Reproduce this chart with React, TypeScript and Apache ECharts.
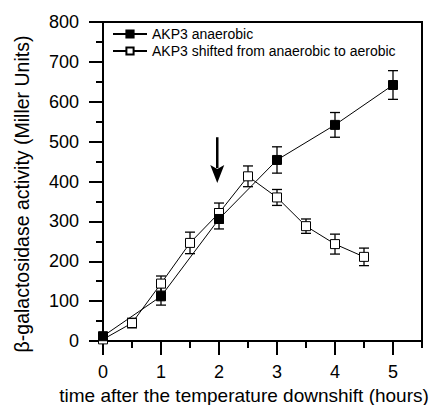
import React, { useEffect, useRef } from "react";
import * as echarts from "echarts";

const anaerobicX = [0, 1, 2, 3, 4, 5];
const anaerobicY = [12, 112, 306, 454, 542, 642];
const anaerobicErr = [8, 22, 25, 33, 31, 36];

const shiftedX = [0, 0.5, 1, 1.5, 2, 2.5, 3, 3.5, 4, 4.5];
const shiftedY = [4, 45, 144, 246, 321, 413, 360, 288, 243, 211];
const shiftedErr = [5, 12, 19, 27, 25, 26, 20, 18, 25, 22];

const xMajorTicks = [0, 1, 2, 3, 4, 5];
const xMinorTicks = [0.5, 1.5, 2.5, 3.5, 4.5, 5.5];

const xTitle = "time after the temperature downshift (hours)";
const yTitle = "β-galactosidase activity (Miller Units)";

// arrow: x, top value, tip value
const arrow = [1.97, 511, 396];

const FONT = "Liberation Sans";

function errorSeries(xs: number[], ys: number[], es: number[]) {
  return {
    type: "custom",
    z: 1,
    silent: true,
    data: xs.map((x, i) => [x, ys[i] - es[i], ys[i] + es[i]]),
    renderItem: (params: any, api: any) => {
      const x = api.value(0);
      const lo = api.coord([x, api.value(1)]);
      const hi = api.coord([x, api.value(2)]);
      const w = 5;
      const style = { stroke: "#000", lineWidth: 1.3 };
      return {
        type: "group",
        children: [
          { type: "line", shape: { x1: lo[0], y1: lo[1], x2: hi[0], y2: hi[1] }, style },
          { type: "line", shape: { x1: lo[0] - w, y1: lo[1], x2: lo[0] + w, y2: lo[1] }, style },
          { type: "line", shape: { x1: hi[0] - w, y1: hi[1], x2: hi[0] + w, y2: hi[1] }, style },
        ],
      };
    },
  };
}

export default function App() {
  const ref = useRef<HTMLDivElement>(null);
  useEffect(() => {
    if (!ref.current) return;
    const chart = echarts.init(ref.current, null, { renderer: "svg" });
    chart.setOption({
      animation: false,
      backgroundColor: "#fff",
      grid: {
        left: 103,
        right: 10,
        top: 22,
        bottom: 64,
        show: true,
        borderColor: "#000",
        borderWidth: 2,
        containLabel: false,
        outerBoundsMode: "none",
      },
      graphic: [
        {
          type: "text",
          x: 244,
          y: 395,
          style: {
            text: xTitle,
            fontFamily: FONT,
            fontSize: 19,
            fill: "#000",
            align: "center",
            verticalAlign: "middle",
          },
        },
        {
          type: "text",
          x: 22,
          y: 194,
          rotation: Math.PI / 2,
          style: {
            text: yTitle,
            fontFamily: FONT,
            fontSize: 19.5,
            fill: "#000",
            align: "center",
            verticalAlign: "middle",
          },
        },
      ],
      legend: {
        orient: "vertical",
        left: 112,
        top: 27,
        padding: 0,
        itemWidth: 34,
        itemHeight: 9,
        itemGap: 3,
        textStyle: { fontFamily: FONT, fontSize: 14, color: "#000" },
        data: ["AKP3 anaerobic", "AKP3 shifted from anaerobic to aerobic"],
      },
      xAxis: [
        {
          type: "value",
          min: 0,
          max: 5.5,
          interval: 1,
          axisLine: { show: true, lineStyle: { color: "#000", width: 2 } },
          axisTick: { show: true, length: 14, customValues: xMajorTicks, lineStyle: { color: "#000", width: 2 } },
          axisLabel: {
            customValues: xMajorTicks,
            margin: 22,
            fontFamily: FONT,
            fontSize: 18,
            color: "#000",
          },
          splitLine: { show: false },
        },
        {
          type: "value",
          min: 0,
          max: 5.5,
          interval: 0.5,
          position: "bottom",
          axisLine: { show: false },
          axisTick: { show: true, length: 7, customValues: xMinorTicks, lineStyle: { color: "#000", width: 2 } },
          axisLabel: { show: false },
          splitLine: { show: false },
        },
      ],
      yAxis: {
        type: "value",
        min: 0,
        max: 800,
        interval: 100,
        axisLine: { show: true, lineStyle: { color: "#000", width: 2 } },
        axisTick: { show: true, length: 14, lineStyle: { color: "#000", width: 2 } },
        minorTick: { show: true, splitNumber: 2, length: 7, lineStyle: { color: "#000", width: 2 } },
        axisLabel: { margin: 24, fontFamily: FONT, fontSize: 18, color: "#000" },
        splitLine: { show: false },
      },
      series: [
        errorSeries(anaerobicX, anaerobicY, anaerobicErr),
        errorSeries(shiftedX, shiftedY, shiftedErr),
        {
          name: "AKP3 anaerobic",
          type: "line",
          z: 3,
          data: anaerobicX.map((x, i) => [x, anaerobicY[i]]),
          symbol: "rect",
          symbolSize: 9,
          itemStyle: { color: "#000", borderColor: "#000", borderWidth: 1 },
          lineStyle: { color: "#000", width: 1 },
        },
        {
          name: "AKP3 shifted from anaerobic to aerobic",
          type: "line",
          z: 2,
          data: shiftedX.map((x, i) => [x, shiftedY[i]]),
          symbol: "rect",
          symbolSize: 9,
          itemStyle: { color: "#fff", borderColor: "#000", borderWidth: 1 },
          lineStyle: { color: "#000", width: 1 },
        },
        {
          type: "custom",
          silent: true,
          z: 4,
          data: [arrow],
          renderItem: (params: any, api: any) => {
            const top = api.coord([api.value(0), api.value(1)]);
            const tip = api.coord([api.value(0), api.value(2)]);
            const headH = 18;
            const headW = 7;
            return {
              type: "group",
              children: [
                {
                  type: "line",
                  shape: { x1: top[0], y1: top[1], x2: tip[0], y2: tip[1] - headH + 3 },
                  style: { stroke: "#000", lineWidth: 2.5 },
                },
                {
                  type: "polygon",
                  shape: {
                    points: [
                      [tip[0], tip[1]],
                      [tip[0] - headW, tip[1] - headH],
                      [tip[0], tip[1] - headH + 4],
                      [tip[0] + headW, tip[1] - headH],
                    ],
                  },
                  style: { fill: "#000" },
                },
              ],
            };
          },
        },
      ],
    });
    return () => chart.dispose();
  }, []);
  return <div ref={ref} style={{ width: 432, height: 405, position: "absolute", left: 0, top: 0 }} />;
}
